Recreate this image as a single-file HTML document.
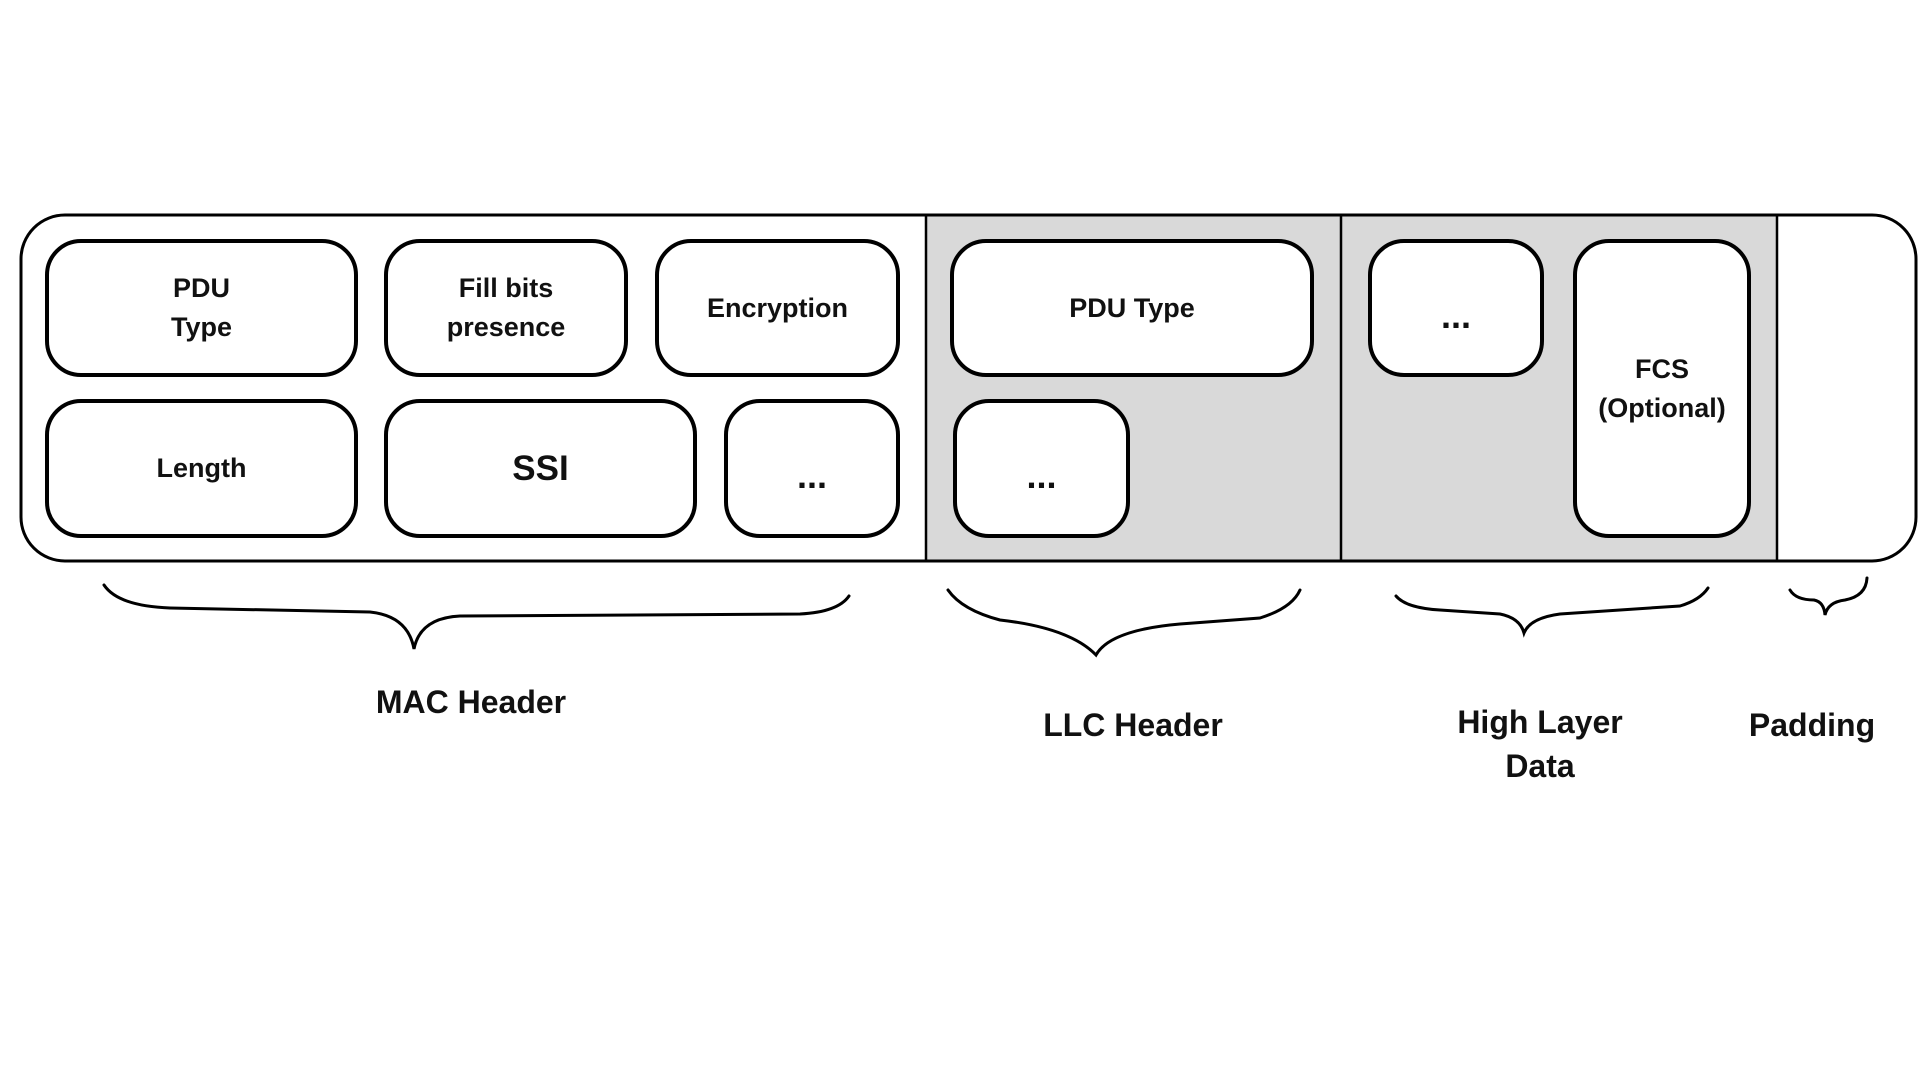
<!DOCTYPE html>
<html><head><meta charset="utf-8"><style>
body{margin:0;background:#fff;width:1920px;height:1080px;overflow:hidden;position:relative;font-family:"Liberation Sans",sans-serif;}
.b{position:absolute;border:4px solid #000;border-radius:36px;box-sizing:border-box;background:#fff;display:flex;align-items:center;justify-content:center;text-align:center;font-weight:bold;font-size:27px;line-height:39px;color:#111;}
.d{padding-top:14px;font-size:36px;}
.l{position:absolute;font-weight:bold;font-size:32px;line-height:44px;text-align:center;transform:translateX(-50%);white-space:nowrap;color:#111;}
</style></head><body>
<svg width="1920" height="1080" style="position:absolute;left:0;top:0">
<rect x="926" y="216" width="851" height="344" fill="#d9d9d9"/>
<rect x="21" y="215" width="1895" height="346" rx="44" fill="none" stroke="#000" stroke-width="3"/>
<path d="M926 215V561M1341 215V561M1777 215V561" stroke="#000" stroke-width="2.5" fill="none"/>
<g fill="none" stroke="#000" stroke-width="3" stroke-linecap="round">
<path d="M104 585 Q118 606 170 608 L370 612 Q408 616 414 649 Q420 618 460 616 L800 614 Q838 612 849 596"/>
<path d="M948 590 Q962 610 1000 620 Q1070 628 1096 655 Q1110 630 1180 624 L1260 618 Q1292 608 1300 590"/>
<path d="M1396 596 Q1406 608 1440 610 L1500 614 Q1520 618 1524 633 Q1530 618 1560 614 L1680 606 Q1700 600 1708 588"/>
<path d="M1790 590 Q1796 600 1814 600 Q1824 602 1825 615 Q1828 602 1845 600 Q1866 596 1867 578"/>
</g>
</svg>
<div class="b" style="left:45px;top:239px;width:313px;height:138px">PDU<br>Type</div>
<div class="b" style="left:384px;top:239px;width:244px;height:138px">Fill bits<br>presence</div>
<div class="b" style="left:655px;top:239px;width:245px;height:138px">Encryption</div>
<div class="b" style="left:45px;top:399px;width:313px;height:139px">Length</div>
<div class="b" style="left:384px;top:399px;width:313px;height:139px;font-size:35px">SSI</div>
<div class="b d" style="left:724px;top:399px;width:176px;height:139px">...</div>
<div class="b" style="left:950px;top:239px;width:364px;height:138px">PDU Type</div>
<div class="b d" style="left:953px;top:399px;width:177px;height:139px">...</div>
<div class="b d" style="left:1368px;top:239px;width:176px;height:138px">...</div>
<div class="b" style="left:1573px;top:239px;width:178px;height:299px">FCS<br>(Optional)</div>
<div class="l" style="left:471px;top:680px">MAC Header</div>
<div class="l" style="left:1133px;top:703px">LLC Header</div>
<div class="l" style="left:1540px;top:700px">High Layer<br>Data</div>
<div class="l" style="left:1812px;top:703px">Padding</div>
</body></html>
